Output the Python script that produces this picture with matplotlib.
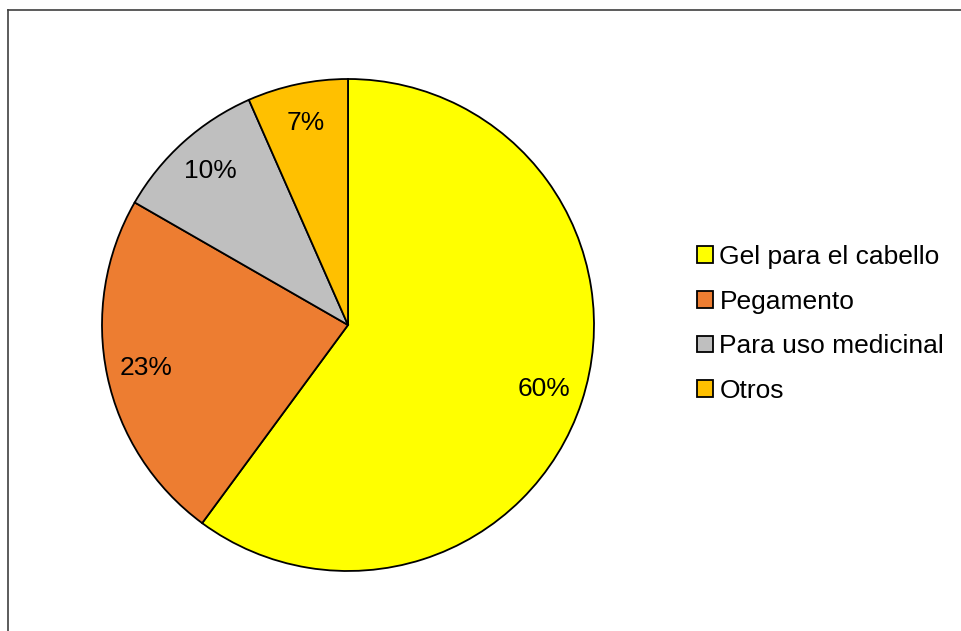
import matplotlib.pyplot as plt
from matplotlib.lines import Line2D

# Datos del grafico
categorias = ["Gel para el cabello", "Pegamento", "Para uso medicinal", "Otros"]
porcentajes = [60.1, 23.2, 10.1, 6.6]
colores = ["#FFFF00", "#ED7D31", "#BFBFBF", "#FFC000"]

plt.rcParams['font.family'] = ['Liberation Sans', 'DejaVu Sans']

fig = plt.figure(figsize=(9.61, 6.31), dpi=100)
W, H = 961, 631
cx, cy, r = 348, 325, 246
ax = fig.add_axes([(cx - r) / W, (H - cy - r) / H, 2 * r / W, 2 * r / H])

wedges, textos, pcts = ax.pie(
    porcentajes, colors=colores, startangle=90, counterclock=False,
    autopct='%1.0f%%', pctdistance=0.84, radius=1,
    wedgeprops=dict(edgecolor='black', linewidth=1.3),
    textprops=dict(fontsize=19, color='black'))
ax.set_xlim(-1, 1)
ax.set_ylim(-1, 1)
ax.set_aspect('equal')
ax.axis('off')

fig.legend(wedges, categorias, loc='center left', bbox_to_anchor=(697 / W, 1 - 324 / H),
           frameon=False, fontsize=19, handlelength=0.6, handleheight=0.6,
           handletextpad=0.25, labelspacing=0.78, borderaxespad=0, borderpad=0)

# Borde del area del grafico
fig.add_artist(Line2D([8 / W, 8 / W], [0, 1 - 10 / H], transform=fig.transFigure,
                      color='#404040', linewidth=1.2))
fig.add_artist(Line2D([8 / W, 1], [1 - 10 / H, 1 - 10 / H], transform=fig.transFigure,
                      color='#404040', linewidth=1.2))

fig.savefig('out.png', dpi=100)
